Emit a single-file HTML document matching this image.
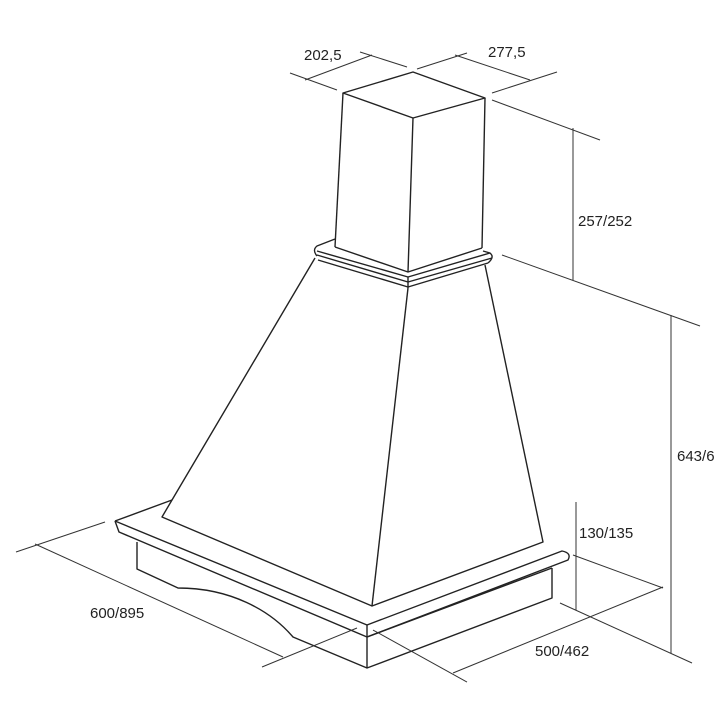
<!DOCTYPE html>
<html><head><meta charset="utf-8"><style>
html,body{margin:0;padding:0;background:#fff;}
svg{display:block}
text{font-family:"Liberation Sans",sans-serif;font-size:15px;fill:#222}
</style></head><body>
<svg width="720" height="720" viewBox="0 0 720 720" xmlns="http://www.w3.org/2000/svg">
<g fill="none" stroke="#222" stroke-width="1.4" stroke-linejoin="round">
<!-- chimney -->
<polygon points="343,93 413,72 485,98 413,118"/>
<line x1="343" y1="93" x2="335" y2="247"/>
<line x1="413" y1="118" x2="408" y2="272"/>
<line x1="485" y1="98" x2="482" y2="248"/>
<polyline points="335,247 408,272 482,248"/>
<!-- collar -->
<path d="M335,239 L317,246 Q312,250 317,256"/>
<path d="M483,251 L490,253 Q495,257 488,263"/>
<polyline points="317,251 408,277 490,253"/>
<polyline points="317,255 408,282 492,258"/>
<polyline points="318,260 408,287 488,263"/>
<line x1="408" y1="277" x2="408" y2="288"/>
<!-- hood -->
<polyline points="315,258 172,500 162,517 372,606 543,542 485,265"/>
<line x1="408" y1="288" x2="372" y2="606"/>
<!-- slab -->
<line x1="115" y1="521" x2="172" y2="500"/>
<path d="M115,521 L119,532 L367,637 L552,568"/>
<path d="M115,521 L367,625 L562,551 Q572,553 568,560 L367,637"/>
<line x1="367" y1="625" x2="367" y2="637"/>
<!-- base -->
<path d="M137,542 L137,569 L178,588 C230,588 270,610 293,637 L367,668 L552,598 L552,568"/>
<line x1="367" y1="637" x2="367" y2="668"/>
</g>
<g fill="none" stroke="#333" stroke-width="1">
<!-- 202,5 -->
<line x1="290" y1="73" x2="337" y2="90"/>
<line x1="360" y1="52" x2="407" y2="67"/>
<line x1="305" y1="80" x2="372" y2="55"/>
<!-- 277,5 -->
<line x1="417" y1="69" x2="467" y2="53"/>
<line x1="492" y1="93" x2="557" y2="72"/>
<line x1="455" y1="55" x2="530" y2="80"/>
<!-- 257/252 -->
<line x1="492" y1="100" x2="600" y2="140"/>
<line x1="573" y1="128" x2="573" y2="280"/>
<line x1="502" y1="255" x2="700" y2="326"/>
<!-- 643 -->
<line x1="671" y1="315" x2="671" y2="653"/>
<line x1="560" y1="603" x2="692" y2="663"/>
<!-- 130 -->
<line x1="576" y1="502" x2="576" y2="610"/>
<line x1="573" y1="555" x2="663" y2="588"/>
<!-- 500 -->
<line x1="453" y1="673" x2="663" y2="587"/>
<line x1="373" y1="630" x2="467" y2="682"/>
<!-- 600 -->
<line x1="16" y1="552" x2="105" y2="522"/>
<line x1="35" y1="544" x2="283" y2="657"/>
<line x1="262" y1="667" x2="357" y2="628"/>
</g>
<text x="304" y="60">202,5</text>
<text x="488" y="57">277,5</text>
<text x="578" y="226">257/252</text>
<text x="677" y="461">643/6</text>
<text x="579" y="538">130/135</text>
<text x="535" y="656">500/462</text>
<text x="90" y="618">600/895</text>
</svg>
</body></html>
